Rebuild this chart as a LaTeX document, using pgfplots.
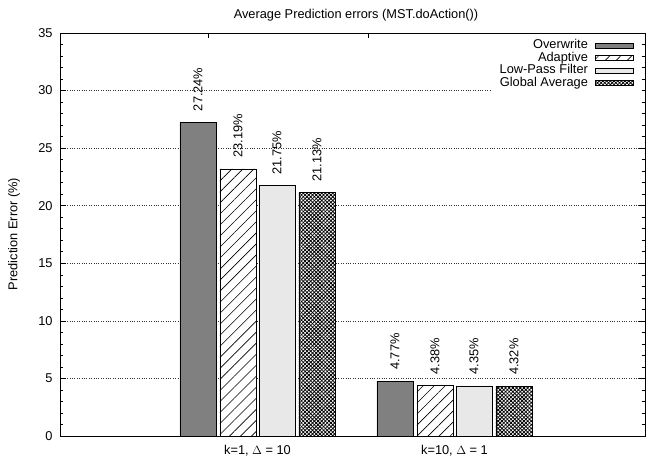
\documentclass[border=0pt]{standalone}
\usepackage{fontspec}
\setmainfont{Liberation Sans}
\usepackage{pgfplots}
\pgfplotsset{compat=1.18}
\usetikzlibrary{patterns.meta}
\begin{document}
\fontsize{12.8}{14}\selectfont
\begin{tikzpicture}[x=1pt,y=1pt]
\useasboundingbox (0,0) rectangle (646,456);
\node[font=\fontsize{12.8}{14}\selectfont] at (356,441) {Average Prediction errors (MST.doAction())};
\node[rotate=90,font=\fontsize{12.8}{14}\selectfont] at (14,222) {Prediction Error (\%)};
\begin{axis}[
  at={(60pt,20pt)}, anchor=south west,
  scale only axis, width=585pt, height=403pt,
  xmin=-1.0025, xmax=1.967,
  ymin=0, ymax=35,
  ytick={0,5,...,35},
  minor y tick num=4,
  major tick length=6pt, minor tick length=3pt,
  ymajorgrids,
  grid style={dotted, line width=0.5pt, black!80},
  xtick={0,1},
  xticklabels={{k=1, $\Delta$ = 10},{k=10, $\Delta$ = 1}},
  xtick style={draw=none},
  xticklabel style={yshift=1.5pt},
  yticklabel style={xshift=-3pt},
  axis line style={line width=0.8pt},
  every tick/.style={black, line width=0.6pt},
  /pgf/number format/assume math mode=true,
  tick label style={font=\fontsize{12.8}{14}\selectfont},
  ybar, bar width=0.183,
  nodes near coords={\pgfmathprintnumber[fixed,precision=2,fixed zerofill]{\pgfplotspointmeta}\%},
  nodes near coords style={rotate=90, anchor=west, inner xsep=11pt, font=\fontsize{12.8}{14}\selectfont, black},
  legend cell align=right,
  legend plot pos=right,
  legend image code/.code={\draw[#1] (0pt,-2.5pt) rectangle (38pt,2.5pt);},
  legend style={at={(1,1)}, anchor=north east, xshift=-3pt, yshift=-1pt,
    draw=none, fill=white, inner xsep=8pt, inner ysep=5pt,
    font=\fontsize{12.8}{12.8}\selectfont, column sep=7pt, row sep=0pt,
    nodes={inner sep=0pt, text height=9.3pt, text depth=3.3pt}},
]
\addplot[bar shift=-0.302, fill=black!50, draw=black, line width=0.6pt] coordinates {(0,27.24) (1,4.77)};
\addlegendentry{Overwrite}
\addplot[bar shift=-0.099, fill=white, draw=black, line width=0.8pt,
  postaction={pattern={Lines[angle=45,distance=7.8pt,line width=0.6pt]}}] coordinates {(0,23.19) (1,4.38)};
\addlegendentry{Adaptive}
\addplot[bar shift=0.099, fill=black!9, draw=black, line width=0.6pt] coordinates {(0,21.75) (1,4.35)};
\addlegendentry{Low-Pass Filter}
\addplot[bar shift=0.302, fill=white, draw=black, line width=0.9pt,
  postaction={pattern={Lines[angle=45,distance=2.6pt,line width=0.8pt]}},
  postaction={pattern={Lines[angle=-45,distance=2.6pt,line width=0.8pt]}}] coordinates {(0,21.13) (1,4.32)};
\addlegendentry{Global Average}
\draw[line width=0.6pt] (axis cs:-0.251,35) -- ([yshift=-5pt]axis cs:-0.251,35);
\draw[line width=0.6pt] (axis cs:0.561,35) -- ([yshift=-5pt]axis cs:0.561,35);
\end{axis}
\end{tikzpicture}
\end{document}
